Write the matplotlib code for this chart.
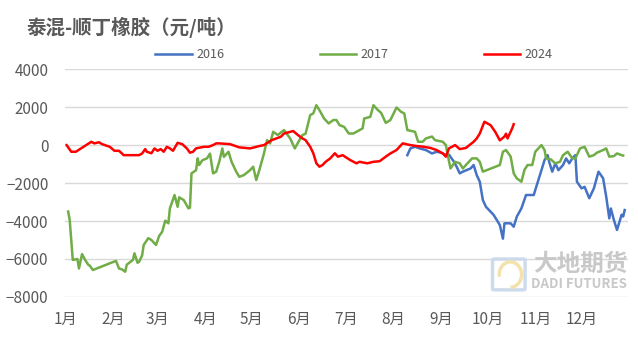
import matplotlib
matplotlib.use("Agg")
import matplotlib.pyplot as plt
import matplotlib.patches as mpatches
import pandas as pd

plt.rcParams['font.family'] = ['Noto Sans CJK SC', 'DejaVu Sans']

title = "泰混-顺丁橡胶（元/吨）"
month_labels = ["1月", "2月", "3月", "4月", "5月", "6月", "7月", "8月", "9月", "10月", "11月", "12月"]
y_ticks = [4000, 2000, 0, -2000, -4000, -6000, -8000]

s2016_dates = ["08-10", "08-12", "08-15", "08-18", "08-22", "08-26", "08-29", "09-01", "09-04", "09-06",
               "09-09", "09-11", "09-13", "09-15", "09-20", "09-22", "09-24", "09-26", "09-28", "09-30",
               "10-05", "10-09", "10-11", "10-12", "10-16", "10-18", "10-20", "10-23", "10-26", "10-31",
               "11-02", "11-05", "11-07", "11-09", "11-10", "11-12", "11-14", "11-16", "11-19", "11-21",
               "11-23", "11-25", "11-27", "11-28", "12-01", "12-03", "12-06", "12-09", "12-12", "12-15",
               "12-17", "12-19", "12-20", "12-22", "12-24", "12-27", "12-28", "12-29"]
s2016_vals = [-530, -175, -90, -175, -260, -440, -350, -400, -520, -500,
              -850, -1140, -1490, -1400, -1230, -1050, -1580, -1930, -2900, -3250,
              -3680, -4210, -4930, -4120, -4120, -4300, -3770, -3330, -2630, -2630,
              -2100, -1320, -790, -530, -880, -1400, -960, -1320, -1050, -700,
              -960, -700, -530, -1930, -2280, -2200, -2800, -2280, -1400, -1750,
              -2720, -3860, -3340, -3950, -4470, -3670, -3760, -3420]

s2017_dates = ["01-03", "01-04", "01-06", "01-09", "01-10", "01-12", "01-14", "01-16", "01-17", "01-19",
               "02-03", "02-05", "02-07", "02-09", "02-10", "02-14", "02-15", "02-17", "02-18", "02-20",
               "02-21", "02-24", "02-26", "02-29", "03-02", "03-04", "03-06", "03-08", "03-09", "03-12",
               "03-14", "03-15", "03-18", "03-21", "03-22", "03-23", "03-26", "03-27", "03-28", "03-30",
               "04-02", "04-04", "04-06", "04-08", "04-10", "04-12", "04-13", "04-16", "04-18", "04-21",
               "04-23", "04-26", "04-30", "05-02", "05-04", "05-06", "05-09", "05-11", "05-13", "05-15",
               "05-18", "05-22", "05-26", "05-29", "06-01", "06-03", "06-05", "06-08", "06-10", "06-12",
               "06-14", "06-17", "06-20", "06-23", "06-25", "06-27", "06-30", "07-03", "07-06", "07-10",
               "07-12", "07-13", "07-17", "07-19", "07-22", "07-24", "07-27", "07-30", "08-03", "08-06",
               "08-08", "08-10", "08-15", "08-17", "08-20", "08-22", "08-26", "08-28", "09-02", "09-04",
               "09-05", "09-07", "09-10", "09-13", "09-15", "09-17", "09-21", "09-24", "09-26", "09-28",
               "10-09", "10-11", "10-13", "10-16", "10-18", "10-20", "10-23", "10-25", "10-27", "10-30",
               "11-01", "11-03", "11-05", "11-07", "11-08", "11-11", "11-14", "11-17", "11-19", "11-22",
               "11-25", "11-27", "11-30", "12-03", "12-06", "12-09", "12-11", "12-15", "12-17", "12-19",
               "12-22", "12-24", "12-27", "12-28"]
s2017_vals = [-3500, -3950, -6050, -6000, -6500, -5740, -6050, -6300, -6350, -6580,
              -6100, -6500, -6550, -6670, -6300, -6050, -5700, -6200, -6150, -5800,
              -5260, -4900, -5000, -5260, -4790, -4560, -3980, -4120, -3330, -2630,
              -3250, -2750, -2900, -3330, -3300, -1490, -1320, -700, -1050, -800,
              -700, -450, -1490, -1400, -880, -175, -620, -350, -880, -1400,
              -1670, -1580, -1320, -1140, -1840, -1320, -440, 260, 90, 700,
              530, 790, 350, -175, 260, 530, 600, 1580, 1670, 2100,
              1840, 1400, 1140, 1320, 1320, 1050, 960, 610, 610, 790,
              880, 1400, 1490, 2100, 1840, 1700, 1170, 1320, 1980, 1750,
              1670, 790, 700, 175, 175, 350, 450, 260, 175, 0,
              -440, -1230, -880, -960, -1230, -1050, -700, -700, -880, -1400,
              -1050, -350, -260, -600, -1490, -1750, -1930, -1300, -1050, -1050,
              -350, -175, 0, -260, -700, -750, -960, -880, -530, -350,
              -700, -700, -175, -90, -610, -530, -400, -260, -175, -610,
              -580, -440, -530, -550]

s2024_dates = ["01-02", "01-05", "01-08", "01-18", "01-20", "01-23", "01-25", "01-30", "02-02", "02-05",
               "02-08", "02-18", "02-20", "02-22", "02-23", "02-26", "02-28", "03-01", "03-03", "03-05",
               "03-07", "03-09", "03-11", "03-14", "03-17", "03-20", "03-22", "03-24", "03-26", "03-31",
               "04-03", "04-06", "04-08", "04-10", "04-17", "04-23", "04-30", "05-06", "05-09", "05-14",
               "05-17", "05-20", "05-22", "05-28", "05-31", "06-03", "06-05", "06-08", "06-10", "06-12",
               "06-14", "06-16", "06-18", "06-21", "06-24", "06-26", "06-29", "07-04", "07-08", "07-10",
               "07-15", "07-19", "07-23", "07-27", "07-30", "08-03", "08-07", "08-12", "08-16", "08-20",
               "08-25", "08-29", "09-02", "09-04", "09-06", "09-10", "09-13", "09-17", "09-22", "09-24",
               "09-26", "09-29", "10-03", "10-06", "10-09", "10-12", "10-13", "10-14", "10-17", "10-18"]
s2024_vals = [0, -350, -350, 175, 90, 150, 50, -90, -300, -300,
              -530, -530, -440, -210, -350, -430, -175, -300, -210, -350,
              -90, -175, -300, 120, 50, -175, -400, -350, -170, -90,
              -90, 0, 90, 90, 50, -120, -175, -50, 0, 260,
              350, 440, 610, 740, 530, 350, 260, -90, -430, -960,
              -1140, -1050, -880, -700, -430, -610, -530, -790, -960, -880,
              -960, -880, -850, -610, -440, -260, 90, 0, -50, -80,
              -150, -260, -440, -610, -175, 0, -210, -150, 175, 350,
              610, 1230, 1050, 700, 250, 450, 600, 350, 880, 1100]

series = [("2016", s2016_dates, s2016_vals, "#4472C4"),
          ("2017", s2017_dates, s2017_vals, "#70AD47"),
          ("2024", s2024_dates, s2024_vals, "#FF0000")]

def to_dt(md):
    return pd.to_datetime(["2024-" + d for d in md])

fig = plt.figure(figsize=(6.38, 3.39), dpi=100)
ax = fig.add_axes([0.102, 0.124, 0.882, 0.672])

for name, d, v, c in series:
    ax.plot(to_dt(d), v, color=c, lw=1.8, label=name, solid_joinstyle='round')

ax.set_ylim(-8000, 4000)
ax.set_yticks(y_ticks)
ax.set_xlim(pd.Timestamp("2024-01-01"), pd.Timestamp("2024-12-31"))
month_starts = pd.date_range("2024-01-01", periods=12, freq="MS")
ax.set_xticks(month_starts)
ax.set_xticklabels(month_labels)
ax.grid(axis='y', color='#D9D9D9', lw=1)
ax.set_axisbelow(True)
for s in ax.spines.values():
    s.set_visible(False)
ax.tick_params(axis='both', length=0, labelsize=11, colors='#595959')
ax.tick_params(axis='y', pad=12)
ax.tick_params(axis='x', pad=10)

fig.text(0.042, 0.92, title, fontsize=14, fontweight='bold', color='#595959', va='center')

leg = fig.legend(loc='center', bbox_to_anchor=(0.555, 0.838), ncol=3, frameon=False,
                 fontsize=9, handlelength=2.9, columnspacing=7.6, handletextpad=0.4)
for t in leg.get_texts():
    t.set_color('#595959')

# watermark logo
fig.patches.append(mpatches.FancyBboxPatch((0.775, 0.148), 0.045, 0.085, boxstyle="round,pad=0.003",
                                           transform=fig.transFigure, fill=False,
                                           edgecolor='#C9D8EC', lw=2.5, alpha=0.9))
fig.patches.append(mpatches.Arc((0.80, 0.19), 0.035, 0.075, theta1=-90, theta2=200,
                                transform=fig.transFigure, edgecolor='#F2E2AE', lw=2.5))
fig.text(0.983, 0.221, "大地期货", fontsize=17, fontweight='bold', color='#C8C8C8', ha='right', va='center')
fig.text(0.983, 0.163, "DADI FUTURES", fontsize=9.5, fontweight='bold', color='#C8C8C8', ha='right', va='center')

fig.savefig("out.png", dpi=100)
